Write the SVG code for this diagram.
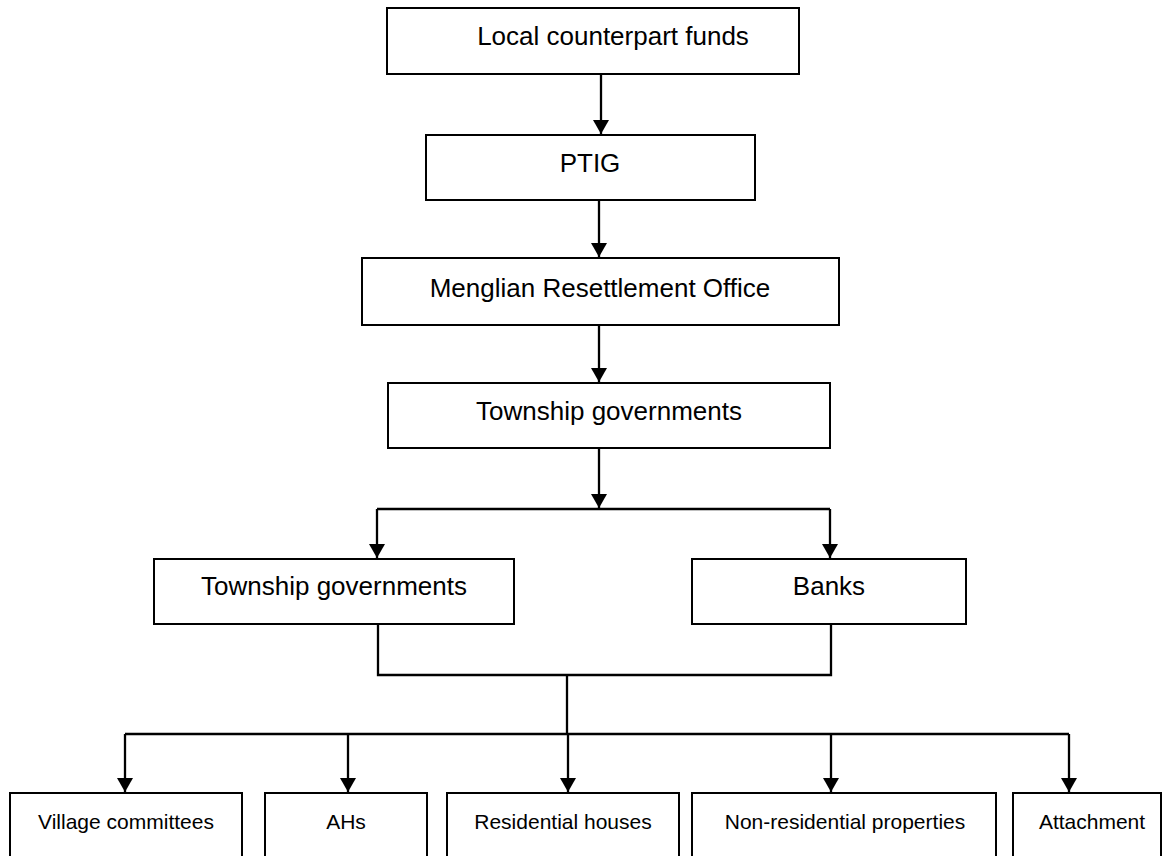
<svg xmlns="http://www.w3.org/2000/svg" width="1164" height="856" viewBox="0 0 1164 856">
<style>
.box{fill:#fff;stroke:#000;stroke-width:2}
.t{font-family:"Liberation Sans",Arial,sans-serif;font-size:26px;fill:#000;text-anchor:middle}
.s{font-family:"Liberation Sans",Arial,sans-serif;font-size:21px;fill:#000;text-anchor:middle}
.c{fill:none;stroke:#000;stroke-width:2.3}
</style>
<defs>
<marker id="arr" markerUnits="userSpaceOnUse" markerWidth="18" markerHeight="18" viewBox="0 0 18 18" refX="14" refY="9" orient="auto">
<path d="M0,1 L14,9 L0,17 Z" fill="#000"/>
</marker>
</defs>
<rect width="1164" height="856" fill="#fff"/>
<g id="connectors">
<path class="c" d="M601,74 V134" marker-end="url(#arr)"/>
<path class="c" d="M599,200 V257" marker-end="url(#arr)"/>
<path class="c" d="M599,325 V382" marker-end="url(#arr)"/>
<path class="c" d="M599,448 V508" marker-end="url(#arr)"/>
<path class="c" d="M377,509 H830"/>
<path class="c" d="M377,509 V558" marker-end="url(#arr)"/>
<path class="c" d="M830,509 V558" marker-end="url(#arr)"/>
<path class="c" d="M378,624 V675 H831 V624"/>
<path class="c" d="M567,675 V734"/>
<path class="c" d="M125,734 H1069"/>
<path class="c" d="M125,734 V792" marker-end="url(#arr)"/>
<path class="c" d="M348,734 V792" marker-end="url(#arr)"/>
<path class="c" d="M568,734 V792" marker-end="url(#arr)"/>
<path class="c" d="M831,734 V792" marker-end="url(#arr)"/>
<path class="c" d="M1069,734 V792" marker-end="url(#arr)"/>
</g>
<g id="n-local"><rect class="box" x="387" y="8" width="412" height="66"/><text class="t" x="613" y="45">Local counterpart funds</text></g>
<g id="n-ptig"><rect class="box" x="426" y="135" width="329" height="65"/><text class="t" x="590" y="172">PTIG</text></g>
<g id="n-menglian"><rect class="box" x="362" y="258" width="477" height="67"/><text class="t" x="600" y="297">Menglian Resettlement Office</text></g>
<g id="n-township"><rect class="box" x="388" y="383" width="442" height="65"/><text class="t" x="609" y="420">Township governments</text></g>
<g id="n-township2"><rect class="box" x="154" y="559" width="360" height="65"/><text class="t" x="334" y="595">Township governments</text></g>
<g id="n-banks"><rect class="box" x="692" y="559" width="274" height="65"/><text class="t" x="829" y="595">Banks</text></g>
<g id="n-village"><rect class="box" x="10" y="793" width="232" height="80"/><text class="s" x="126" y="829">Village committees</text></g>
<g id="n-ahs"><rect class="box" x="265" y="793" width="162" height="80"/><text class="s" x="346" y="829">AHs</text></g>
<g id="n-residential"><rect class="box" x="447" y="793" width="232" height="80"/><text class="s" x="563" y="829">Residential houses</text></g>
<g id="n-nonres"><rect class="box" x="692" y="793" width="304" height="80"/><text class="s" x="845" y="829">Non-residential properties</text></g>
<g id="n-attachment"><rect class="box" x="1013" y="793" width="148" height="80"/><text class="s" x="1092" y="829">Attachment</text></g>
</svg>
